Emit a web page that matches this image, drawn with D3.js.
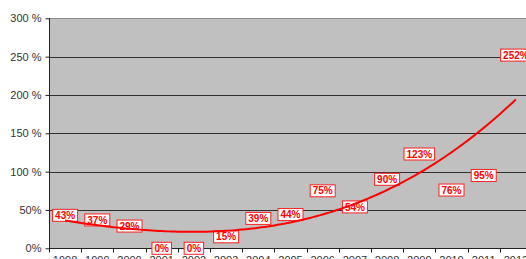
<!DOCTYPE html>
<html>
<head>
<meta charset="utf-8">
<script src="https://cdn.jsdelivr.net/npm/d3@7"></script>
<style>
  body { margin: 0; background: #fff; }
  svg { display: block; }
</style>
</head>
<body>
<svg id="chart" width="526" height="259"></svg>
<script>
// data
const years = ["1998", "1999", "2000", "2001", "2002", "2003", "2004", "2005",
	"2006", "2007", "2008", "2009", "2010", "2011", "2012"];
const values = [43, 37, 29, 0, 0, 15, 39, 44, 75, 54, 90, 123, 76, 95, 252];
const yTicks = [0, 50, 100, 150, 200, 250, 300];
const yTickLabels = ["0%", "50%", "100 %", "150 %", "200 %", "250 %", "300 %"];

const margin = { top: 18.3, left: 49, bottom: 10.7 },
	plotRight = 532;

const svg = d3.select("#chart");
const height = 259;

const x = d3.scaleBand()
	.domain(years)
	.range([margin.left, plotRight]);

const y = d3.scaleLinear()
	.domain([0, 300])
	.range([height - margin.bottom, margin.top]);

// plot background
svg.append("rect")
	.attr("x", margin.left)
	.attr("y", y(300))
	.attr("width", plotRight - margin.left)
	.attr("height", y(0) - y(300))
	.attr("fill", "#c0c0c0");

// gridlines
svg.append("g")
	.selectAll("line")
	.data(yTicks.filter(d => d > 0))
	.enter().append("line")
	.attr("x1", margin.left)
	.attr("x2", plotRight)
	.attr("y1", d => Math.round(y(d)) + 0.5)
	.attr("y2", d => Math.round(y(d)) + 0.5)
	.attr("stroke", d => d === 300 ? "#8c8c8c" : "#303030")
	.attr("stroke-width", 1);

// y axis
const yAxis = svg.append("g")
	.attr("transform", `translate(${margin.left + 0.5},0)`)
	.call(d3.axisLeft(y)
		.tickValues(yTicks)
		.tickSize(4)
		.tickPadding(4)
		.tickFormat((d, i) => yTickLabels[i]));
yAxis.selectAll("text")
	.style("font", "11px 'Liberation Sans', Arial, sans-serif")
	.attr("fill", "#333");
yAxis.select(".domain").attr("stroke", "#222").attr("d", `M0,${y(300)}V${y(0)}`);
yAxis.selectAll(".tick line").attr("stroke", "#222");

// x axis
const xAxis = svg.append("g")
	.attr("transform", `translate(0,${Math.round(y(0)) + 0.5})`)
	.call(d3.axisBottom(x).tickSize(0).tickPadding(8));
xAxis.select(".domain").attr("stroke", "#222").attr("d", `M${margin.left},0H${plotRight}`);
xAxis.selectAll("text")
	.style("font", "11px 'Liberation Sans', Arial, sans-serif")
	.attr("fill", "#333");
// tick marks between categories
xAxis.append("g")
	.selectAll("line")
	.data(years)
	.enter().append("line")
	.attr("x1", d => Math.round(x(d)) + 0.5)
	.attr("x2", d => Math.round(x(d)) + 0.5)
	.attr("y1", 0)
	.attr("y2", 4)
	.attr("stroke", "#222");

// data labels (the series itself is hidden, only the labels show)
const labels = svg.append("g")
	.selectAll("g")
	.data(values)
	.enter().append("g")
	.attr("transform", (d, i) => `translate(${x(years[i]) + x.bandwidth() / 2},${y(d)})`);

labels.append("rect")
	.attr("fill", "#fff")
	.attr("stroke", "#ff2020")
	.attr("stroke-width", 1);

labels.append("text")
	.attr("text-anchor", "middle")
	.attr("dy", "0.36em")
	.style("font", "bold 10px 'Liberation Sans', Arial, sans-serif")
	.attr("fill", "#ff0000")
	.text(d => d + "%");

labels.each(function () {
	const g = d3.select(this);
	const w = g.select("text").node().getComputedTextLength() + 5;
	g.select("rect")
		.attr("x", -w / 2)
		.attr("y", -6)
		.attr("width", w)
		.attr("height", 12);
});

// cubic polynomial trendline (least squares fit of the values, like Excel's)
function polyFit(xs, ys, order) {
	const n = order + 1;
	const A = [];
	for (let r = 0; r < n; r++) {
		A.push([]);
		for (let c = 0; c < n; c++) A[r].push(d3.sum(xs, v => Math.pow(v, r + c)));
		A[r].push(d3.sum(xs, (v, k) => Math.pow(v, r) * ys[k]));
	}
	for (let i = 0; i < n; i++) {
		let p = i;
		for (let k = i + 1; k < n; k++) if (Math.abs(A[k][i]) > Math.abs(A[p][i])) p = k;
		[A[i], A[p]] = [A[p], A[i]];
		for (let k = i + 1; k < n; k++) {
			const f = A[k][i] / A[i][i];
			for (let c = i; c <= n; c++) A[k][c] -= f * A[i][c];
		}
	}
	const coef = new Array(n).fill(0);
	for (let i = n - 1; i >= 0; i--) {
		let s = A[i][n];
		for (let c = i + 1; c < n; c++) s -= A[i][c] * coef[c];
		coef[i] = s / A[i][i];
	}
	return t => coef.reduce((acc, c, k) => acc + c * Math.pow(t, k), 0);
}

const idx = values.map((d, i) => i);
const trend = polyFit(idx, values, 3);
const xPos = t => margin.left + x.bandwidth() * (t + 0.5);
const samples = d3.range(0, values.length - 1 + 0.001, 0.1);

svg.append("path")
	.datum(samples)
	.attr("fill", "none")
	.attr("stroke", "#ff0000")
	.attr("stroke-width", 2)
	.attr("d", d3.line().x(t => xPos(t)).y(t => y(trend(t))));
</script>
</body>
</html>
